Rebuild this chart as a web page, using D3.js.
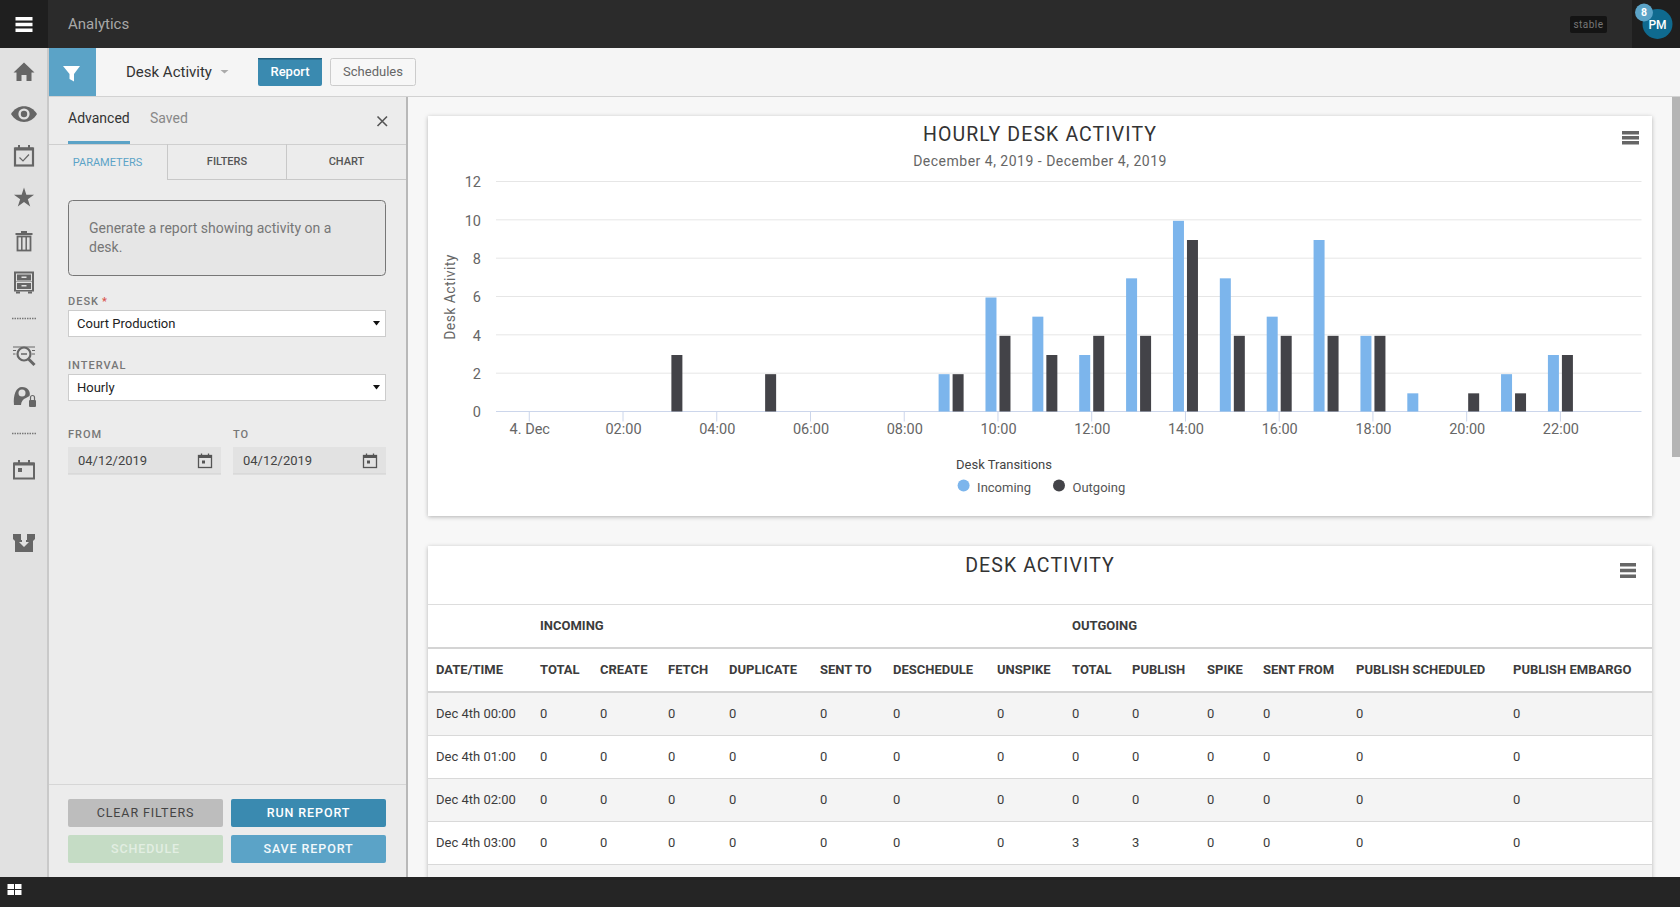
<!DOCTYPE html>
<html>
<head>
<meta charset="utf-8">
<title>Hourly Desk Activity</title>
<script src="https://cdn.jsdelivr.net/npm/d3@7"></script>
<style>
  html, body { margin: 0; padding: 0; background: #f7f7f7; overflow: hidden; }
  svg { display: block; font-family: Roboto, sans-serif; }
</style>
</head>
<body>
<div id="app"></div>
<script>
// chart data
const hours = [0, 1, 2, 3, 4, 5, 6, 7, 8, 9, 10, 11, 12, 13, 14, 15, 16, 17, 18, 19, 20, 21, 22, 23]
const incoming = [0, 0, 0, 0, 0, 0, 0, 0, 0, 2, 6, 5, 3, 7, 10, 7, 5, 9, 4, 1, 0, 2, 3, 0]
const outgoing = [0, 0, 0, 3, 0, 2, 0, 0, 0, 2, 4, 3, 4, 4, 9, 4, 4, 4, 4, 0, 1, 1, 3, 0]
const seriesNames = ['Incoming', 'Outgoing']
const xTickHours = [0, 2, 4, 6, 8, 10, 12, 14, 16, 18, 20, 22]
const xTickLabels = ['4. Dec', '02:00', '04:00', '06:00', '08:00', '10:00', '12:00', '14:00', '16:00', '18:00', '20:00', '22:00']
const yTicks = [0, 2, 4, 6, 8, 10, 12]

// table data
const tableGroups = ['INCOMING', 'OUTGOING']
const tableColumns = ['DATE/TIME', 'TOTAL', 'CREATE', 'FETCH', 'DUPLICATE', 'SENT TO', 'DESCHEDULE', 'UNSPIKE', 'TOTAL', 'PUBLISH', 'SPIKE', 'SENT FROM', 'PUBLISH SCHEDULED', 'PUBLISH EMBARGO']
const row0 = ['Dec 4th 00:00', 0, 0, 0, 0, 0, 0, 0, 0, 0, 0, 0, 0, 0]
const row1 = ['Dec 4th 01:00', 0, 0, 0, 0, 0, 0, 0, 0, 0, 0, 0, 0, 0]
const row2 = ['Dec 4th 02:00', 0, 0, 0, 0, 0, 0, 0, 0, 0, 0, 0, 0, 0]
const row3 = ['Dec 4th 03:00', 0, 0, 0, 0, 0, 0, 0, 3, 3, 0, 0, 0, 0]
const tableRows = [row0, row1, row2, row3]

// layout
const columnX = [436, 540, 600, 668, 729, 820, 893, 997, 1072, 1132, 1207, 1263, 1356, 1513]
const groupX = [540, 1072]
const rowLines = [735, 778, 821, 864]
const rowCentres = [713.5, 756.5, 799.5, 842.5]
const BLUE = '#5ba3c7'
const DARK_BLUE = '#3a8ab0'
const RAIL = '#e1e1e1'
const ICON = '#666'

const svg = d3.select('#app').append('svg').attr('width', 1680).attr('height', 907)

const defs = svg.append('defs')
const shadow = defs.append('filter').attr('id', 'cardShadow')
  .attr('x', '-2%').attr('y', '-2%').attr('width', '104%').attr('height', '104%')
shadow.append('feDropShadow').attr('dx', 0).attr('dy', 1).attr('stdDeviation', 2)
  .attr('flood-color', '#000').attr('flood-opacity', 0.28)

function rect (parent, x, y, w, h, fill, extra = {}) {
  const r = parent.append('rect').attr('x', x).attr('y', y).attr('width', w).attr('height', h).attr('fill', fill)
  Object.entries(extra).forEach(([k, v]) => r.attr(k, v))
  return r
}

function line (parent, x1, y1, x2, y2, stroke, width = 1) {
  return parent.append('line').attr('x1', x1).attr('y1', y1).attr('x2', x2).attr('y2', y2)
    .attr('stroke', stroke).attr('stroke-width', width)
}

function label (parent, x, y, str, size, fill, extra = {}) {
  const t = parent.append('text').attr('x', x).attr('y', y).attr('dy', '0.35em')
    .attr('font-size', size).attr('fill', fill).text(str)
  Object.entries(extra).forEach(([k, v]) => t.attr(k, v))
  return t
}

function hamburger (parent, x, y, w, h, fill, bar) {
  [0, 1, 2].forEach(i => rect(parent, x, y + i * (h - bar) / 2, w, bar, fill))
}

// ---------- page background ----------
rect(svg, 0, 0, 1680, 907, '#f7f7f7')
rect(svg, 1672, 97, 8, 360, '#b5b5b5')

// ---------- chart card ----------
const chartCard = svg.append('g').attr('id', 'chart_card')
rect(chartCard, 428, 116, 1224, 400, '#fff', { filter: 'url(#cardShadow)' })
label(chartCard, 1040, 134.5, 'HOURLY DESK ACTIVITY', 19.5, '#333', { 'text-anchor': 'middle', 'letter-spacing': 1.1 })
label(chartCard, 1040, 161, 'December 4, 2019 - December 4, 2019', 14, '#666', { 'text-anchor': 'middle', 'letter-spacing': 0.5 })
hamburger(chartCard, 1622, 131, 17, 13.5, ICON, 3.5)

const plot = { left: 496, right: 1641.5, top: 181.5, bottom: 411.5 }
const x = d3.scaleLinear().domain([-0.71, 23.73]).range([plot.left, plot.right])
const y = d3.scaleLinear().domain([0, 12]).range([plot.bottom, plot.top])
const seriesOffset = d3.scaleBand().domain(seriesNames).range([-12.5, 12.5]).paddingInner(3 / 14)
const colour = d3.scaleOrdinal().domain(seriesNames).range(['#7cb5ec', '#434348'])

const yAxis = chartCard.append('g').attr('transform', `translate(${plot.left},0)`)
  .call(d3.axisLeft(y).tickValues(yTicks).tickSize(-(plot.right - plot.left)).tickPadding(15).offset(0))
yAxis.select('.domain').remove()
yAxis.selectAll('.tick line').attr('stroke', '#e6e6e6')
yAxis.selectAll('.tick').filter(d => d === 0).select('line').remove()
yAxis.selectAll('.tick text').attr('font-family', 'Roboto').attr('font-size', 14.5).attr('fill', '#666').attr('dy', '0.4em')

const xAxis = chartCard.append('g').attr('transform', `translate(0,${plot.bottom})`)
  .call(d3.axisBottom(x).tickValues(xTickHours).tickFormat((d, i) => xTickLabels[i]).tickSize(10).tickPadding(2).tickSizeOuter(0).offset(0))
xAxis.select('.domain').attr('stroke', '#ccd6eb')
xAxis.selectAll('.tick line').attr('stroke', '#ccd6eb')
xAxis.selectAll('.tick text').attr('font-family', 'Roboto').attr('font-size', 14.5).attr('fill', '#666').attr('dx', 0.5)

label(chartCard, 0, 0, 'Desk Activity', 14, '#666', {
  'text-anchor': 'middle',
  transform: 'translate(450,297) rotate(-90)',
  'letter-spacing': 0.4
})

// bars stop just under the gridline they reach, the axis line covers their foot
const barInset = 1
const seriesValues = { Incoming: incoming, Outgoing: outgoing }
seriesNames.forEach(name => {
  chartCard.append('g').attr('class', 'series').selectAll('rect')
    .data(hours.filter(h => seriesValues[name][h] > 0))
    .join('rect')
    .attr('x', h => x(h) + seriesOffset(name))
    .attr('y', h => y(seriesValues[name][h]) + barInset)
    .attr('width', seriesOffset.bandwidth())
    .attr('height', h => y(0) - y(seriesValues[name][h]) - barInset)
    .attr('fill', colour(name))
})

label(chartCard, 1004, 464, 'Desk Transitions', 13, '#444', { 'text-anchor': 'middle' })
const legendX = [963.6, 1059]
seriesNames.forEach((name, i) => {
  chartCard.append('circle').attr('cx', legendX[i]).attr('cy', 485.5).attr('r', 6).attr('fill', colour(name))
  label(chartCard, legendX[i] + 13.5, 487, name, 13, '#555')
})

// ---------- table card ----------
const tableCard = svg.append('g').attr('id', 'table_card')
rect(tableCard, 428, 546, 1224, 340, '#fff', { filter: 'url(#cardShadow)' })
label(tableCard, 1040, 565.5, 'DESK ACTIVITY', 19.5, '#333', { 'text-anchor': 'middle', 'letter-spacing': 1.1 })
hamburger(tableCard, 1620, 563, 16, 15, ICON, 3.5)
line(tableCard, 428, 604.5, 1652, 604.5, '#ddd')
line(tableCard, 428, 648, 1652, 648, '#d4d4d4', 2)
line(tableCard, 428, 692, 1652, 692, '#d4d4d4', 2)

tableGroups.forEach((g, i) => {
  label(tableCard, groupX[i], 625.5, g, 13, '#3c3c3c', { 'font-weight': 700 })
})
tableColumns.forEach((c, i) => {
  label(tableCard, columnX[i], 669.5, c, 13, '#3c3c3c', { 'font-weight': 700 })
})

// striped rows, the fifth one only shows its top edge
rect(tableCard, 428, 693, 1224, 42, '#f4f4f4')
rect(tableCard, 428, 779, 1224, 42, '#f4f4f4')
rect(tableCard, 428, 865, 1224, 12, '#f4f4f4')
rowLines.forEach(l => line(tableCard, 428, l + 0.5, 1652, l + 0.5, '#d9d9d9'))

tableRows.forEach((row, r) => {
  row.forEach((value, c) => {
    label(tableCard, columnX[c], rowCentres[r], value, 13, '#3c3c3c')
  })
})

// ---------- filter panel ----------
const panel = svg.append('g').attr('id', 'panel')
rect(panel, 48, 97, 358, 780, '#ececec')
rect(panel, 406, 97, 2, 780, '#b8b8b8')

label(panel, 68, 118, 'Advanced', 14, '#333')
label(panel, 150, 118, 'Saved', 14, '#888')
rect(panel, 68, 141, 62, 3, BLUE)
line(panel, 48, 144.5, 406, 144.5, '#cfcfcf')
panel.append('path').attr('d', 'M377.5 116.5 L387 126 M387 116.5 L377.5 126').attr('stroke', '#555').attr('stroke-width', 1.6)

line(panel, 167.5, 144, 167.5, 179.5, '#c8c8c8')
line(panel, 286.5, 144, 286.5, 179.5, '#c8c8c8')
line(panel, 167, 179.5, 406, 179.5, '#c8c8c8')
label(panel, 107.5, 162, 'PARAMETERS', 11, BLUE, { 'text-anchor': 'middle' })
label(panel, 227, 161, 'FILTERS', 11, '#555', { 'text-anchor': 'middle', 'font-weight': 500 })
label(panel, 346.5, 161, 'CHART', 11, '#555', { 'text-anchor': 'middle', 'font-weight': 500 })

rect(panel, 68.5, 200.5, 317, 75, '#e6e6e6', { stroke: '#777', rx: 4 })
label(panel, 89, 228, 'Generate a report showing activity on a', 14, '#777')
label(panel, 89, 247, 'desk.', 14, '#777')

const fieldLabel = { 'letter-spacing': 1, 'font-weight': 500 }
label(panel, 68, 301, 'DESK', 11, '#777', fieldLabel)
label(panel, 102, 301, '*', 11, '#d9534f', { 'font-weight': 500 })
label(panel, 68, 365, 'INTERVAL', 11, '#777', fieldLabel)
label(panel, 68, 434, 'FROM', 11, '#777', fieldLabel)
label(panel, 233, 434, 'TO', 11, '#777', fieldLabel)

function select (y0, value) {
  rect(panel, 68.5, y0 + 0.5, 317, 26, '#fff', { stroke: '#ccc' })
  label(panel, 77, y0 + 13, value, 13, '#222')
  panel.append('path').attr('d', `M373 ${y0 + 11} h7 l-3.5 4.5 z`).attr('fill', '#111')
}
select(310, 'Court Production')
select(374, 'Hourly')

function calendarIcon (parent, cx, cy, stroke) {
  const g = parent.append('g').attr('transform', `translate(${cx},${cy})`)
  rect(g, -6.5, -5.5, 13, 12, 'none', { stroke, 'stroke-width': 1.3 })
  rect(g, -6.5, -5.5, 13, 2.5, stroke)
  rect(g, -3, -0.5, 3, 3, stroke)
  line(g, -3.5, -7.5, -3.5, -5, stroke, 1.3)
  line(g, 3.5, -7.5, 3.5, -5, stroke, 1.3)
}

function dateField (x0, value) {
  rect(panel, x0, 447, 153, 27, '#e2e2e2')
  line(panel, x0, 474, x0 + 153, 474, '#d0d0d0')
  label(panel, x0 + 10, 460.5, value, 13, '#444')
  calendarIcon(panel, x0 + 137, 461, '#555')
}
dateField(68, '04/12/2019')
dateField(233, '04/12/2019')

line(panel, 48, 784.5, 406, 784.5, '#d6d6d6')
function button (x0, y0, w, fill, str, textFill, weight) {
  rect(panel, x0, y0, w, 28, fill, { rx: 2 })
  label(panel, x0 + w / 2, y0 + 14, str, 12.5, textFill, { 'text-anchor': 'middle', 'letter-spacing': 0.9, 'font-weight': weight })
}
button(68, 799, 155, '#bdbdbd', 'CLEAR FILTERS', '#444', 400)
button(231, 799, 155, DARK_BLUE, 'RUN REPORT', '#fff', 500)
button(68, 835, 155, '#c5dcc5', 'SCHEDULE', '#e2eee2', 500)
button(231, 835, 155, BLUE, 'SAVE REPORT', '#f2f8fb', 500)

// ---------- sub header ----------
const sub = svg.append('g').attr('id', 'sub_header')
rect(sub, 48, 48, 1632, 48, '#f5f5f5')
line(sub, 48, 96.5, 1680, 96.5, '#d2d2d2')
rect(sub, 48, 48, 48, 48, BLUE)
sub.append('path').attr('d', 'M63 66 H80 L74 74 V81.5 L69.5 79 V74 Z').attr('fill', '#fff')
label(sub, 126, 71.5, 'Desk Activity', 15, '#333')
sub.append('path').attr('d', 'M220.5 70 h8 l-4 3.5 z').attr('fill', '#aaa')
rect(sub, 258, 58, 64, 28, DARK_BLUE, { rx: 2 })
rect(sub, 258, 58, 64, 1.5, '#23607e')
label(sub, 290, 71.5, 'Report', 13, '#fff', { 'text-anchor': 'middle', 'font-weight': 500 })
rect(sub, 330.5, 58.5, 85, 27, '#f7f7f7', { stroke: '#ccc', rx: 2 })
label(sub, 373, 71.5, 'Schedules', 13, '#666', { 'text-anchor': 'middle' })

// ---------- top bar ----------
const topBar = svg.append('g').attr('id', 'top_bar')
rect(topBar, 0, 0, 1680, 48, '#2b2b2b')
rect(topBar, 0, 0, 48, 48, '#1f1f1f')
hamburger(topBar, 15.5, 17, 17, 15, '#fff', 3.5)
label(topBar, 68, 24, 'Analytics', 15, '#a8a8a8')
rect(topBar, 1570, 16, 37, 17, '#141414', { rx: 2 })
label(topBar, 1588.5, 24.5, 'stable', 10, '#777', { 'text-anchor': 'middle', 'letter-spacing': 0.5 })
rect(topBar, 1632, 0, 48, 48, '#1f1f1f')
topBar.append('circle').attr('cx', 1657.5).attr('cy', 24).attr('r', 15).attr('fill', '#0f6a8f')
label(topBar, 1657.5, 24.5, 'PM', 12, '#fff', { 'text-anchor': 'middle', 'font-weight': 500 })
topBar.append('circle').attr('cx', 1644).attr('cy', 12.5).attr('r', 9).attr('fill', BLUE)
label(topBar, 1644, 12.5, '8', 10.5, '#fff', { 'text-anchor': 'middle', 'font-weight': 700 })

// ---------- icon rail ----------
const rail = svg.append('g').attr('id', 'rail')
rect(rail, 0, 48, 48, 829, RAIL)
rect(rail, 47, 48, 2, 829, '#c9c9c9')

function iconG (cy) {
  return rail.append('g').attr('transform', `translate(24,${cy})`)
}

// home
iconG(72).append('path').attr('d', 'M0 -9.5 L10.5 0.5 H7.5 V9 H2.5 V3 H-2.5 V9 H-7.5 V0.5 H-10.5 Z').attr('fill', ICON)
// eye
const eye = iconG(114)
eye.append('path').attr('d', 'M-13 0 C-7 -10.5 7 -10.5 13 0 C7 10.5 -7 10.5 -13 0 Z').attr('fill', ICON)
eye.append('circle').attr('r', 5.6).attr('fill', RAIL)
eye.append('circle').attr('r', 3.2).attr('fill', ICON)
// calendar check
const cal = iconG(156)
rect(cal, -9, -7.5, 18, 17, RAIL, { stroke: ICON, 'stroke-width': 2.2 })
rect(cal, -9, -8.5, 18, 3, ICON)
line(cal, -5, -11, -5, -8, ICON, 2)
line(cal, 5, -11, 5, -8, ICON, 2)
cal.append('path').attr('d', 'M-4.5 1.5 L-1 5 L5 -1.5').attr('fill', 'none').attr('stroke', ICON).attr('stroke-width', 1.2)
// star
iconG(198).append('path').attr('d', d3.symbol().type(d3.symbolStar).size(125)).attr('fill', ICON)
// trash
const trash = iconG(241)
rect(trash, -8.5, -8, 17, 2, ICON)
rect(trash, -3, -10, 6, 2, ICON)
rect(trash, -6.5, -4.5, 13, 14, RAIL, { stroke: ICON, 'stroke-width': 1.8 })
line(trash, -2.2, -4, -2.2, 9, ICON, 1.5)
line(trash, 2.2, -4, 2.2, 9, ICON, 1.5)
// cabinet
const cab = iconG(281.5)
rect(cab, -10, -10, 20, 20, ICON)
rect(cab, -7.5, -7.5, 15, 7, ICON, { stroke: RAIL, 'stroke-width': 1 })
rect(cab, -7.5, 1, 15, 7, ICON, { stroke: RAIL, 'stroke-width': 1 })
rect(cab, -2.5, -5, 5, 1.5, RAIL)
rect(cab, -2.5, 3.5, 5, 1.5, RAIL)
rect(cab, -8, 10, 4, 2, ICON)
rect(cab, 4, 10, 4, 2, ICON)
// dotted separators
line(rail, 12, 318.5, 37, 318.5, '#777', 1.5).attr('stroke-dasharray', '1.5 1')
line(rail, 12, 433.5, 37, 433.5, '#777', 1.5).attr('stroke-dasharray', '1.5 1')
// search list
const search = iconG(355)
search.append('circle').attr('cx', 0).attr('cy', -1).attr('r', 6.5).attr('fill', 'none').attr('stroke', ICON).attr('stroke-width', 2.2)
line(search, 4.5, 4, 10.5, 10, ICON, 3)
line(search, -3, -1, 3, -1, ICON, 1.5)
line(search, -11, -8, 11, -8, ICON, 1)
line(search, -11, -4.5, -8, -4.5, ICON, 1)
line(search, -11, -1, -8.5, -1, ICON, 1)
line(search, 8, -4.5, 11, -4.5, ICON, 1)
line(search, 8, -1, 11, -1, ICON, 1)
// user lock
const user = iconG(396)
user.append('path').attr('d', 'M-10 9 C-11 -1 -8 -9 -2 -9 C4 -9 7 -4 5.5 0 L2 2 C-1 3 -3 6 -3 9 Z').attr('fill', ICON)
user.append('circle').attr('cx', -2).attr('cy', -3).attr('r', 3.5).attr('fill', RAIL)
rect(user, 5, 4, 7, 7, ICON, { rx: 1 })
user.append('path').attr('d', 'M6.5 4 V1.5 A2 2 0 0 1 10.5 1.5 V4').attr('fill', 'none').attr('stroke', ICON).attr('stroke-width', 1.2)
// calendar
const cal2 = iconG(470)
rect(cal2, -10, -6.5, 20, 15, RAIL, { stroke: ICON, 'stroke-width': 2 })
rect(cal2, -10, -7.5, 20, 3, ICON)
line(cal2, -5, -10, -5, -7, ICON, 2)
line(cal2, 5, -10, 5, -7, ICON, 2)
rect(cal2, -6, -2, 4, 4, ICON)
// box with arrow
const box = iconG(543)
box.append('path').attr('d', 'M-11 -9 H-3 V-3 H3 V-9 H11 V-4 L9 -2 V9 H-9 V-2 L-11 -4 Z').attr('fill', ICON)
box.append('path').attr('d', 'M-2 -4 H2 V-1 H5 L0 4 L-5 -1 H-2 Z').attr('fill', RAIL)

// ---------- bottom bar ----------
const bottom = svg.append('g').attr('id', 'bottom_bar')
rect(bottom, 0, 877, 1680, 30, '#252525')
const winX = [7.5, 15]
const winY = [884, 890]
winX.forEach(wx => winY.forEach(wy => rect(bottom, wx, wy, 6.5, 5, '#fff')))
</script>
</body>
</html>
